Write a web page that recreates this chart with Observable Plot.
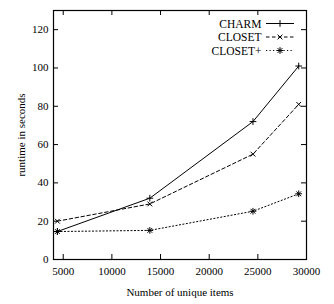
<!DOCTYPE html>
<html>
<head>
<meta charset="utf-8">
<script src="https://cdn.jsdelivr.net/npm/d3@7"></script>
<script src="https://cdn.jsdelivr.net/npm/@observablehq/plot@0.6"></script>
<style>
  html, body { margin: 0; padding: 0; background: #fff; }
  #chart svg { font-family: "Liberation Serif", "Times New Roman", serif; }
</style>
</head>
<body>
<div id="chart"></div>
<script>
const items = [4400, 13900, 24500, 29200];
const charm = [14.6, 32, 72, 101];
const closet = [20, 29, 55, 81];
const closetPlus = [14.6, 15.2, 25.2, 34.3];
const seriesNames = ["CHARM", "CLOSET", "CLOSET+"];
const xTicks = [5000, 10000, 15000, 20000, 25000, 30000];
const yTicks = [0, 20, 40, 60, 80, 100, 120];

const styles = {
  "CHARM": {dash: null, symbols: ["plus"]},
  "CLOSET": {dash: "3.5,2.5", symbols: ["times"]},
  "CLOSET+": {dash: "1.2,2.3", symbols: ["plus", "times"]}
};
const values = {"CHARM": charm, "CLOSET": closet, "CLOSET+": closetPlus};
const rows = seriesNames.flatMap(s => items.map((x, i) => ({series: s, x, y: values[s][i]})));

const W = 334, H = 304;
const mt = 10, mb = 45, ml = 53, mr = 28;
const innerH = H - mt - mb;
const innerW = W - ml - mr;
const tickLen = 5;
const markR = 2.3;

const marks = [
  Plot.frame({stroke: "#000", strokeWidth: 1.2}),
  Plot.tickX(xTicks.filter(d => d < 30000), {x: d => d, insetTop: innerH - tickLen, stroke: "#000"}),
  Plot.tickX(xTicks.filter(d => d < 30000), {x: d => d, insetBottom: innerH - tickLen, stroke: "#000"}),
  Plot.tickY(yTicks.filter(d => d > 0), {y: d => d, insetRight: innerW - tickLen, stroke: "#000"}),
  Plot.tickY(yTicks.filter(d => d > 0), {y: d => d, insetLeft: innerW - tickLen, stroke: "#000"}),
  Plot.axisX({ticks: xTicks, tickSize: 0, tickPadding: 8, tickFormat: d => String(d), fontSize: 11,
    label: "Number of unique items", labelAnchor: "center", labelArrow: "none", labelOffset: 36}),
  Plot.axisY({ticks: yTicks, tickSize: 0, tickPadding: 5, tickFormat: d => String(d), fontSize: 11,
    label: "runtime in seconds", labelAnchor: "center", labelArrow: "none", labelOffset: 36}),
];

for (const s of seriesNames) {
  const data = rows.filter(r => r.series === s);
  marks.push(Plot.line(data, {x: "x", y: "y", stroke: "#000", strokeWidth: 1, strokeDasharray: styles[s].dash}));
  for (const sym of styles[s].symbols) {
    marks.push(Plot.dot(data, {x: "x", y: "y", symbol: sym, r: markR, stroke: "#000", strokeWidth: 1}));
  }
}

// legend (inside plot area, top-right)
const legendTop = 13.5, legendRowH = 13.5;
seriesNames.forEach((s, i) => {
  marks.push(Plot.text([s], {text: d => d, frameAnchor: "top-right", dx: -45, dy: legendTop + i * legendRowH,
    textAnchor: "end", fontSize: 11.5, lineAnchor: "middle"}));
});

const chart = Plot.plot({
  width: W, height: H,
  marginTop: mt, marginBottom: mb, marginLeft: ml, marginRight: mr,
  x: {domain: [4000, 30000]},
  y: {domain: [0, 130]},
  style: {fontFamily: '"Liberation Serif", "Times New Roman", serif', fontSize: "11px", color: "#000", background: "#fff"},
  marks
});
document.getElementById("chart").appendChild(chart);

// legend line samples with markers
const svg = d3.select(chart);
const g = svg.append("g").attr("fill", "none").attr("stroke", "#000");
const symMap = {plus: d3.symbolPlus, times: d3.symbolTimes};
seriesNames.forEach((s, i) => {
  const y = mt + legendTop + i * legendRowH;
  const x1 = W - mr - 40, x2 = W - mr - 12;
  g.append("line").attr("x1", x1).attr("x2", x2).attr("y1", y).attr("y2", y)
    .attr("stroke-dasharray", styles[s].dash);
  for (const sym of styles[s].symbols) {
    g.append("path").attr("transform", `translate(${(x1 + x2) / 2},${y})`)
      .attr("d", d3.symbol(symMap[sym], Math.PI * markR * markR)());
  }
});
</script>
</body>
</html>
